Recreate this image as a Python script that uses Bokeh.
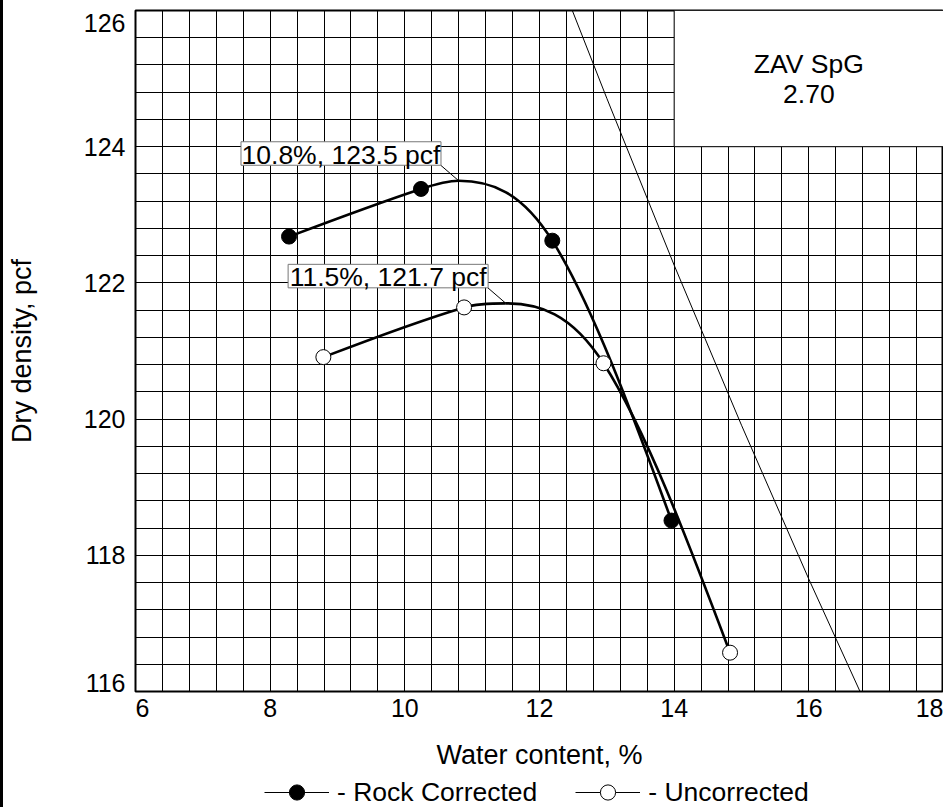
from bokeh.plotting import figure
from bokeh.layouts import column
from bokeh.models import Range1d, FixedTicker, Legend, LegendItem, CustomJSTickFormatter
from bokeh.core.properties import value
from bokeh.embed import file_html
from bokeh.resources import INLINE

# ---------------- data ----------------
ROCK_W = [8.28, 10.24, 12.19, 13.96]
ROCK_DD = [122.68, 123.38, 122.62, 118.51]
ROCK_PEAK_W, ROCK_PEAK_DD = 10.8, 123.5

UNC_W = [8.79, 10.88, 12.95, 14.83]
UNC_DD = [120.91, 121.64, 120.82, 116.57]
UNC_PEAK_W, UNC_PEAK_DD = 11.5, 121.7

ZAV_W = [12.4, 13.0, 14.0, 15.0, 16.0, 17.0]
ZAV_DD = [126.22, 124.71, 122.26, 119.91, 117.65, 115.48]
ZAV_TEXT = "ZAV SpG\n2.70"

X_TICKS = [6, 8, 10, 12, 14, 16, 18]
Y_TICKS = [116, 118, 120, 122, 124, 126]
X_TITLE = "Water content, %"
Y_TITLE = "Dry density, pcf"
ROCK_NAME = "- Rock Corrected"
UNC_NAME = "- Uncorrected"

FONT = "Liberation Sans"
PX_X, PX_Y = 67.5, 68.1   # pixels per data unit of the frame (810 x 681 px)

# ---------------- main figure ----------------
p = figure(width=940, height=777, x_range=Range1d(X_TICKS[0], X_TICKS[-1]),
           y_range=Range1d(Y_TICKS[0], Y_TICKS[-1]),
           output_backend="svg", toolbar_location=None,
           min_border_left=130, min_border_right=0, min_border_top=10, min_border_bottom=86)
p.background_fill_color = "white"
p.border_fill_color = "white"
p.outline_line_color = "black"
p.outline_line_width = 2

# grid every 0.4 units
xg = [round(X_TICKS[0] + 0.4 * i, 2) for i in range(31)]
yg = [round(Y_TICKS[0] + 0.4 * i, 2) for i in range(26)]
p.xgrid.ticker = FixedTicker(ticks=xg)
p.ygrid.ticker = FixedTicker(ticks=yg)
for g in (p.xgrid, p.ygrid):
    g.grid_line_color = "black"
    g.grid_line_width = 1
    g.grid_line_alpha = 1.0

# tick labels: the end labels are nudged inwards, as in the reference
xt = [X_TICKS[0] + 0.104] + X_TICKS[1:-1] + [X_TICKS[-1] - 0.18]
yt = [Y_TICKS[0] + 0.12] + Y_TICKS[1:-1] + [Y_TICKS[-1] - 0.18]
p.xaxis.ticker = FixedTicker(ticks=xt)
p.yaxis.ticker = FixedTicker(ticks=yt)
fmt = CustomJSTickFormatter(code="return Math.round(tick).toString();")
for ax in (p.xaxis, p.yaxis):
    ax.formatter = fmt
    ax.axis_line_color = None
    ax.major_tick_line_color = None
    ax.minor_tick_line_color = None
    ax.major_tick_out = 0
    ax.major_tick_in = 0
    ax.major_label_text_font = FONT
    ax.major_label_text_font_size = "25px"
    ax.major_label_text_color = "black"
    ax.axis_label_text_font = FONT
    ax.axis_label_text_font_size = "27px"
    ax.axis_label_text_font_style = "normal"
    ax.axis_label_text_color = "black"
p.xaxis.major_label_standoff = 7
p.yaxis.major_label_standoff = 10
p.xaxis.axis_label = X_TITLE
p.yaxis.axis_label = Y_TITLE
p.xaxis.axis_label_standoff = 20
p.yaxis.axis_label_standoff = 44

# ZAV line
p.line(ZAV_W, ZAV_DD, line_color="black", line_width=1)

# blank ZAV box in the upper right
p.quad(left=[14], right=[18], bottom=[124], top=[126], fill_color="white", line_color="black", line_width=1)
p.text(x=[16], y=[125], text=[ZAV_TEXT], text_align="center", text_baseline="middle",
       text_font=value(FONT), text_font_size="26.5px", text_line_height=1.0, text_color="black")

# smooth curves through the points (Hermite -> Bezier)
def curve(ws, dds, pw, pdd):
    pts = sorted(list(zip(ws, dds)) + [(pw, pdd)])
    xs = [a for a, b in pts]
    ys = [b for a, b in pts]
    pk = xs.index(pw)
    n = len(xs)
    d = [(ys[i + 1] - ys[i]) / (xs[i + 1] - xs[i]) for i in range(n - 1)]
    m = [0.0] * n
    for i in range(1, n - 1):
        m[i] = (ys[i + 1] - ys[i - 1]) / (xs[i + 1] - xs[i - 1])
    m[pk] = 0.0
    m[0] = (3 * d[0] - m[1]) / 2
    m[-1] = (3 * d[-1] - m[-2]) / 2
    h = [xs[i + 1] - xs[i] for i in range(n - 1)]
    return dict(x0=xs[:-1], y0=ys[:-1], x1=xs[1:], y1=ys[1:],
                cx0=[xs[i] + h[i] / 3 for i in range(n - 1)],
                cy0=[ys[i] + m[i] * h[i] / 3 for i in range(n - 1)],
                cx1=[xs[i + 1] - h[i] / 3 for i in range(n - 1)],
                cy1=[ys[i + 1] - m[i + 1] * h[i] / 3 for i in range(n - 1)])

p.bezier(line_color="black", line_width=2.6, **curve(ROCK_W, ROCK_DD, ROCK_PEAK_W, ROCK_PEAK_DD))
p.bezier(line_color="black", line_width=2.6, **curve(UNC_W, UNC_DD, UNC_PEAK_W, UNC_PEAK_DD))

p.scatter(ROCK_W, ROCK_DD, marker="circle", size=15, fill_color="black", line_color="black")
p.scatter(UNC_W, UNC_DD, marker="circle", size=15, fill_color="white", line_color="black", line_width=1)

# peak annotations: leader line to a boxed label up-left of the peak
BOX_W, BOX_H = 200, 23.5
CORNER_DX, CORNER_DY = -18, 15.5
for pw, pdd in ((ROCK_PEAK_W, ROCK_PEAK_DD), (UNC_PEAK_W, UNC_PEAK_DD)):
    cx = pw + CORNER_DX / PX_X
    cy = pdd + CORNER_DY / PX_Y
    p.segment(x0=[pw], y0=[pdd], x1=[cx], y1=[cy], line_color="black", line_width=1)
    bx = cx - (BOX_W / 2) / PX_X
    by = cy + (BOX_H / 2) / PX_Y
    p.rect(x=[bx], y=[by], width=BOX_W, height=BOX_H, width_units="screen", height_units="screen",
           fill_color="white", line_color="#777777", line_width=1)
    p.text(x=[bx], y=[by], text=[f"{pw:.1f}%, {pdd:.1f} pcf"], text_align="center",
           text_baseline="middle", text_font=value(FONT), text_font_size="26.5px", text_color="black",
           y_offset=1)

# ---------------- legend strip ----------------
q = figure(width=940, height=30, x_range=Range1d(0, 1), y_range=Range1d(0, 1),
           output_backend="svg", toolbar_location=None, min_border=0,
           x_axis_location=None, y_axis_location=None)
q.outline_line_color = None
q.xgrid.visible = False
q.ygrid.visible = False
q.background_fill_color = "white"
q.border_fill_color = "white"
# legend-only renderers, placed outside the visible range
leg_line = q.line(x=[-5, -4], y=[-5, -5], line_color="black", line_width=1)
leg_rock = q.scatter(x=[-5], y=[-5], marker="circle", size=15, fill_color="black", line_color="black")
leg_unc = q.scatter(x=[-5], y=[-5], marker="circle", size=15, fill_color="white", line_color="black")
legend = Legend(items=[LegendItem(label=ROCK_NAME, renderers=[leg_line, leg_rock]),
                       LegendItem(label=UNC_NAME, renderers=[leg_line, leg_unc])],
                orientation="horizontal", location=(129, -4), glyph_width=65, glyph_height=38,
                label_standoff=8, spacing=38, padding=0, margin=0,
                border_line_alpha=0, background_fill_alpha=0,
                label_text_font=FONT, label_text_font_size="26.5px", label_text_color="black")
q.add_layout(legend)

layout = column(p, q, spacing=0)
layout.styles = {"margin-left": "3px", "box-shadow": "-3px 0px 0px 0px black"}

open("out.html", "w").write(file_html(layout, INLINE))
